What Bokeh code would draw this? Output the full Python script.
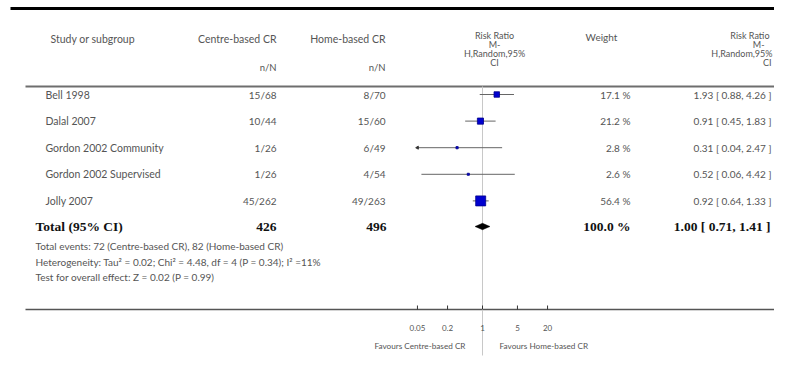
import math
from bokeh.plotting import figure
from bokeh.models import Range1d, LogScale, ColumnDataSource
from bokeh.core.properties import value
from bokeh.embed import file_html
from bokeh.resources import INLINE

# ---------------- data ----------------
studies = ["Bell 1998", "Dalal 2007", "Gordon 2002 Community",
           "Gordon 2002 Supervised", "Jolly 2007"]
centre_nN = ["15/68", "10/44", "1/26", "1/26", "45/262"]
home_nN = ["8/70", "15/60", "6/49", "4/54", "49/263"]
rr = [1.93, 0.91, 0.31, 0.52, 0.92]
rr_lo = [0.88, 0.45, 0.04, 0.06, 0.64]
rr_hi = [4.26, 1.83, 2.47, 4.42, 1.33]
weights = [17.1, 21.2, 2.8, 2.6, 56.4]

total_label = "Total (95% CI)"
total_centre = "426"
total_home = "496"
total_rr = 1.00
total_lo = 0.71
total_hi = 1.41
total_weight = 100.0

footnotes = [
    "Total events: 72 (Centre-based CR), 82 (Home-based CR)",
    "Heterogeneity: Tau\u00b2 = 0.02; Chi\u00b2 = 4.48, df = 4 (P = 0.34); I\u00b2 =11%",
    "Test for overall effect: Z = 0.02 (P = 0.99)",
]

axis_ticks = [0.05, 0.2, 1, 5, 20]
axis_tick_labels = ["0.05", "0.2", "1", "5", "20"]
axis_min, axis_max = 0.05, 20
favours_left = "Favours Centre-based CR"
favours_right = "Favours Home-based CR"

# ---------------- layout ----------------
W, H = 774, 367
X_ONE = 482          # pixel where RR = 1
PX_DEC = 50          # pixels per decade
GRAY = "#555555"
SANS = "Lato"
SERIF = "Liberation Serif"
DARK = "#111111"

p = figure(width=W, height=H, output_backend="svg", toolbar_location=None,
           x_range=Range1d(0, W), y_range=Range1d(H, 0),
           x_axis_type=None, y_axis_type=None, min_border=0,
           outline_line_color=None, background_fill_color="white")
p.extra_x_ranges = {"rr": Range1d(10 ** ((0 - X_ONE) / PX_DEC),
                                  10 ** ((W - X_ONE) / PX_DEC))}
p.extra_x_scales = {"rr": LogScale()}


def txt(x, y, s, size="10px", align="left", font=SANS, style="normal",
        color=GRAY, rng="default"):
    if not isinstance(x, list):
        x, y, s = [x], [y], [s]
    src = ColumnDataSource(dict(x=x, y=y, t=s))
    p.text(x="x", y="y", text="t", source=src, text_font=value(font),
           text_font_size=size, text_align=align, text_baseline="middle",
           text_font_style=style, text_color=color, x_range_name=rng)


# rules
p.segment(x0=[10], x1=[W], y0=[8], y1=[8], line_color="black", line_width=3)
p.segment(x0=[25], x1=[774], y0=[86], y1=[86], line_color="#6e6e6e", line_width=2)
p.segment(x0=[25], x1=[774], y0=[309], y1=[309], line_color="#555555", line_width=1.6)

# headers
txt(50, 38, "Study or subgroup", size="10.5px")
txt(276, 38, "Centre-based CR", align="right", size="10.5px")
txt(385, 38, "Home-based CR", align="right", size="10.5px")
txt(276, 67, "n/N", align="right", size="9.5px")
txt(385, 67, "n/N", align="right", size="9.5px")
hdr = ["Risk Ratio", "M-", "H,Random,95%", "CI"]
hdr_y = [35, 44, 53, 62]
txt([494] * 4, hdr_y, hdr, size="9px", align="center")
txt(601, 36, "Weight", size="10px", align="center")
txt([769, 764, 772, 771], hdr_y, hdr, size="9px", align="right")

# rows
n = len(studies)
row_y = [94 + 26.6 * i for i in range(n)]
tot_y = 93 + 26.6 * n

txt([45] * n, row_y, studies, size="10.5px")
txt([276] * n, row_y, centre_nN, size="10px", align="right")
txt([385] * n, row_y, home_nN, size="10px", align="right")
txt([630] * n, row_y, ["%.1f %%" % w for w in weights], size="10px", align="right")
txt([771] * n, row_y, ["%.2f [ %.2f, %.2f ]" % (a, b, c) for a, b, c in zip(rr, rr_lo, rr_hi)],
    size="10px", align="right")

# total row
txt(35, tot_y, total_label, size="13.5px", font=SERIF, style="bold", color=DARK)
txt(276, tot_y, total_centre, size="13.5px", font=SERIF, style="bold", color=DARK, align="right")
txt(386, tot_y, total_home, size="13.5px", font=SERIF, style="bold", color=DARK, align="right")
txt(630, tot_y, "%.1f %%" % total_weight, size="13.5px", font=SERIF, style="bold",
    color=DARK, align="right")
txt(770, tot_y, "%.2f [ %.2f, %.2f ]" % (total_rr, total_lo, total_hi), size="13.5px",
    font=SERIF, style="bold", color=DARK, align="right")

txt([35] * 3, [245, 261, 276], footnotes, size="10px")

# forest panel
p.segment(x0=[1], x1=[1], y0=[86], y1=[355], x_range_name="rr",
          line_color="#c8c8c8", line_width=1)
clo = [max(v, axis_min) for v in rr_lo]
chi = [min(v, axis_max) for v in rr_hi]
p.segment(x0=clo, x1=chi, y0=row_y, y1=row_y, x_range_name="rr",
          line_color="#666666", line_width=1)
arrows = [(axis_min, y) for v, y in zip(rr_lo, row_y) if v < axis_min]
if arrows:
    p.scatter(x=[a[0] for a in arrows], y=[a[1] for a in arrows], marker="triangle",
              angle=math.pi / 2, size=3, x_range_name="rr",
              fill_color="#333333", line_color="#333333")
p.scatter(x=rr, y=row_y, marker="square", size=[1.33 * math.sqrt(w) for w in weights],
          x_range_name="rr", fill_color="#0000d0", line_color="#00008a", line_width=0.8)
p.patch(x=[total_lo, total_rr, total_hi, total_rr], y=[tot_y, tot_y - 3.2, tot_y, tot_y + 3.2],
        x_range_name="rr", fill_color="black", line_color="black", line_width=0.5)

# axis
p.segment(x0=axis_ticks, x1=axis_ticks, y0=[305] * len(axis_ticks), y1=[309] * len(axis_ticks),
          x_range_name="rr", line_color="#333333", line_width=1)
txt(axis_ticks, [327] * len(axis_ticks), axis_tick_labels, size="8px", align="center", rng="rr")
txt(465, 345, favours_left, size="8.2px", align="right")
txt(499, 345, favours_right, size="8.2px", align="left")

open("out.html", "w").write(file_html(p, INLINE))
